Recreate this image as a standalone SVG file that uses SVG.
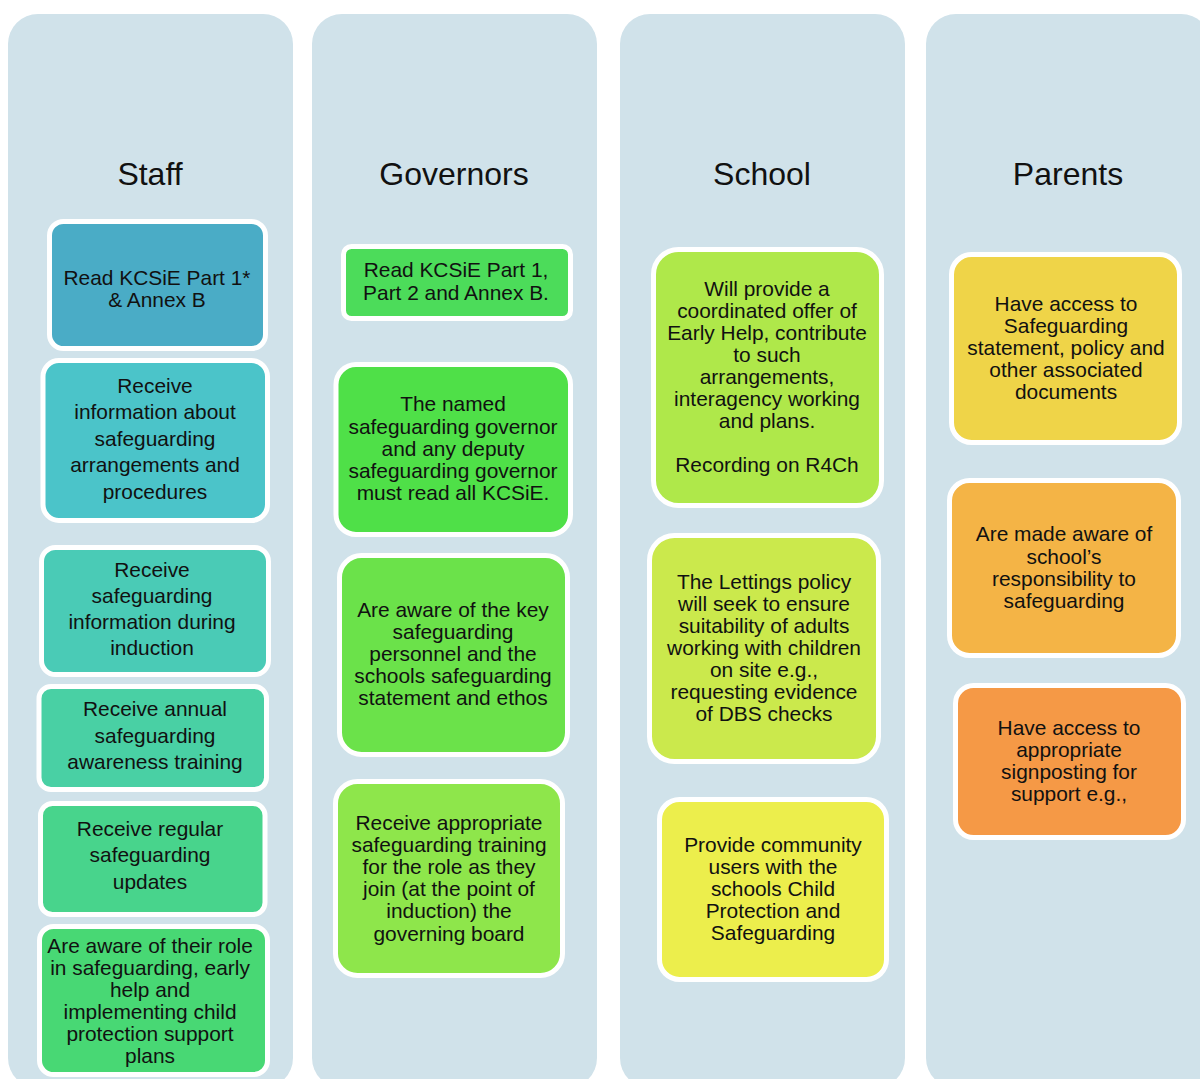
<svg xmlns="http://www.w3.org/2000/svg" width="1200" height="1079" viewBox="0 0 1200 1079">
<style>
.col{fill:#d0e2ea}
.h{font-family:"Liberation Sans",Arial,sans-serif;font-size:32px;fill:#111;text-anchor:middle}
.b{stroke:#fff;stroke-width:5}
.t{font-family:"Liberation Sans",Arial,sans-serif;font-size:20.9px;fill:#111;text-anchor:middle}
</style>
<rect width="1200" height="1079" fill="#fff"/>
<g id="columns">
<rect class="col" x="8" y="14" width="285" height="1074" rx="30"/>
<rect class="col" x="312" y="14" width="285" height="1074" rx="30"/>
<rect class="col" x="620" y="14" width="285" height="1074" rx="30"/>
<rect class="col" x="926" y="14" width="285" height="1074" rx="30"/>
<text class="h" x="150" y="185">Staff</text>
<text class="h" x="454" y="185">Governors</text>
<text class="h" x="762" y="185">School</text>
<text class="h" x="1068" y="185">Parents</text>
</g>
<g id="connectors"/>
<g id="staff1"><rect class="b" x="49.5" y="221.5" width="216" height="127" rx="14" fill="#4aacc6"/>
<text class="t"><tspan x="157" y="285">Read KCSiE Part 1*</tspan><tspan x="157" y="307">&amp; Annex B</tspan></text></g>
<g id="staff2"><rect class="b" x="43" y="360.5" width="224.5" height="160" rx="16" fill="#4bc4c9"/>
<text class="t"><tspan x="155" y="393">Receive</tspan><tspan x="155" y="419">information about</tspan><tspan x="155" y="446">safeguarding</tspan><tspan x="155" y="472">arrangements and</tspan><tspan x="155" y="499">procedures</tspan></text></g>
<g id="staff3"><rect class="b" x="41.5" y="547.5" width="227" height="127" rx="14" fill="#4acbb6"/>
<text class="t"><tspan x="152" y="577">Receive</tspan><tspan x="152" y="603">safeguarding</tspan><tspan x="152" y="629">information during</tspan><tspan x="152" y="655">induction</tspan></text></g>
<g id="staff4"><rect class="b" x="39" y="686.5" width="227.5" height="103" rx="12" fill="#49d0a4"/>
<text class="t"><tspan x="155" y="716">Receive annual</tspan><tspan x="155" y="743">safeguarding</tspan><tspan x="155" y="769">awareness training</tspan></text></g>
<g id="staff5"><rect class="b" x="40.5" y="803.5" width="224.5" height="111" rx="12" fill="#48d48c"/>
<text class="t"><tspan x="150" y="836">Receive regular</tspan><tspan x="150" y="862">safeguarding</tspan><tspan x="150" y="889">updates</tspan></text></g>
<g id="staff6"><rect class="b" x="39.5" y="926.5" width="228" height="148" rx="14" fill="#48d874"/>
<text class="t"><tspan x="150" y="953">Are aware of their role</tspan><tspan x="150" y="975">in safeguarding, early</tspan><tspan x="150" y="997">help and</tspan><tspan x="150" y="1019">implementing child</tspan><tspan x="150" y="1041">protection support</tspan><tspan x="150" y="1063">plans</tspan></text></g>
<g id="gov1"><rect class="b" x="343.5" y="246.5" width="227" height="72" rx="8" fill="#4cdc5a"/>
<text class="t"><tspan x="456" y="277">Read KCSiE Part 1,</tspan><tspan x="456" y="300">Part 2 and Annex B.</tspan></text></g>
<g id="gov2"><rect class="b" x="336" y="364.5" width="234.5" height="170" rx="20" fill="#4fe048"/>
<text class="t"><tspan x="453" y="411">The named</tspan><tspan x="453" y="434">safeguarding governor</tspan><tspan x="453" y="456">and any deputy</tspan><tspan x="453" y="478">safeguarding governor</tspan><tspan x="453" y="500">must read all KCSiE.</tspan></text></g>
<g id="gov3"><rect class="b" x="339.5" y="555.5" width="228" height="199" rx="22" fill="#6be24a"/>
<text class="t"><tspan x="453" y="617">Are aware of the key</tspan><tspan x="453" y="639">safeguarding</tspan><tspan x="453" y="661">personnel and the</tspan><tspan x="453" y="683">schools safeguarding</tspan><tspan x="453" y="705">statement and ethos</tspan></text></g>
<g id="gov4"><rect class="b" x="335.5" y="781.5" width="227" height="194" rx="22" fill="#8ee64b"/>
<text class="t"><tspan x="449" y="830">Receive appropriate</tspan><tspan x="449" y="852">safeguarding training</tspan><tspan x="449" y="874">for the role as they</tspan><tspan x="449" y="896">join (at the point of</tspan><tspan x="449" y="918">induction) the</tspan><tspan x="449" y="941">governing board</tspan></text></g>
<g id="school1"><rect class="b" x="653.5" y="249.5" width="228" height="256" rx="25" fill="#afe84a"/>
<text class="t"><tspan x="767" y="296">Will provide a</tspan><tspan x="767" y="318">coordinated offer of</tspan><tspan x="767" y="340">Early Help, contribute</tspan><tspan x="767" y="362">to such</tspan><tspan x="767" y="384">arrangements,</tspan><tspan x="767" y="406">interagency working</tspan><tspan x="767" y="428">and plans.</tspan><tspan x="767" y="472">Recording on R4Ch</tspan></text></g>
<g id="school2"><rect class="b" x="649.5" y="535.5" width="229" height="226" rx="25" fill="#cbe94c"/>
<text class="t"><tspan x="764" y="589">The Lettings policy</tspan><tspan x="764" y="611">will seek to ensure</tspan><tspan x="764" y="633">suitability of adults</tspan><tspan x="764" y="655">working with children</tspan><tspan x="764" y="677">on site e.g.,</tspan><tspan x="764" y="699">requesting evidence</tspan><tspan x="764" y="721">of DBS checks</tspan></text></g>
<g id="school3"><rect class="b" x="659.5" y="799.5" width="227" height="180" rx="20" fill="#ecee4c"/>
<text class="t"><tspan x="773" y="852">Provide community</tspan><tspan x="773" y="874">users with the</tspan><tspan x="773" y="896">schools Child</tspan><tspan x="773" y="918">Protection and</tspan><tspan x="773" y="940">Safeguarding</tspan></text></g>
<g id="parents1"><rect class="b" x="951.5" y="254.5" width="228" height="188" rx="20" fill="#efd448"/>
<text class="t"><tspan x="1066" y="311">Have access to</tspan><tspan x="1066" y="333">Safeguarding</tspan><tspan x="1066" y="355">statement, policy and</tspan><tspan x="1066" y="377">other associated</tspan><tspan x="1066" y="399">documents</tspan></text></g>
<g id="parents2"><rect class="b" x="949.5" y="480.5" width="229" height="175" rx="20" fill="#f4b446"/>
<text class="t"><tspan x="1064" y="541">Are made aware of</tspan><tspan x="1064" y="564">school’s</tspan><tspan x="1064" y="586">responsibility to</tspan><tspan x="1064" y="608">safeguarding</tspan></text></g>
<g id="parents3"><rect class="b" x="955.5" y="685.5" width="228" height="152" rx="18" fill="#f59946"/>
<text class="t"><tspan x="1069" y="735">Have access to</tspan><tspan x="1069" y="757">appropriate</tspan><tspan x="1069" y="779">signposting for</tspan><tspan x="1069" y="801">support e.g.,</tspan></text></g>
</svg>
